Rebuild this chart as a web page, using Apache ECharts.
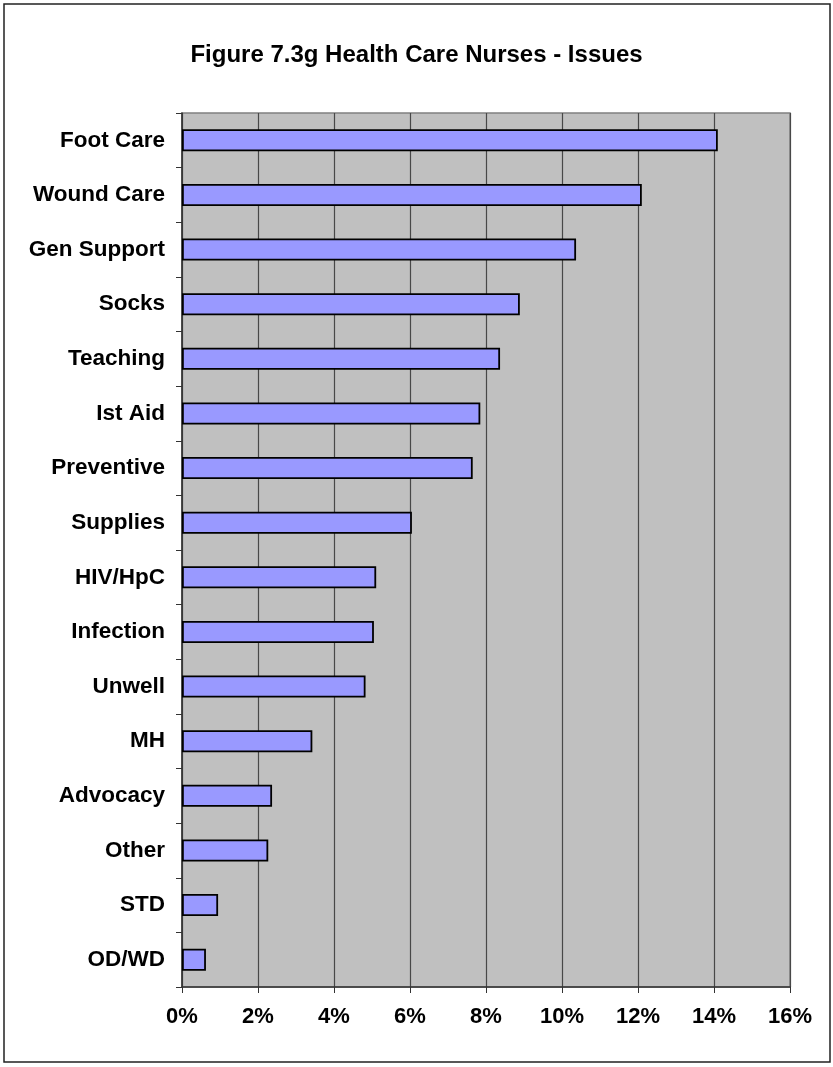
<!DOCTYPE html>
<html>
<head>
<meta charset="utf-8">
<script src="https://cdn.jsdelivr.net/npm/echarts@6/dist/echarts.min.js"></script>
<style>
  html, body { margin: 0; padding: 0; background: #ffffff; }
  #chart { width: 833px; height: 1067px; }
</style>
</head>
<body>
<div id="chart"></div>
<script>
// Issues addressed by health care nurses, share of all contacts (%)
const categories = [
  'Foot Care', 'Wound Care', 'Gen Support', 'Socks', 'Teaching', 'Ist Aid',
  'Preventive', 'Supplies', 'HIV/HpC', 'Infection', 'Unwell', 'MH',
  'Advocacy', 'Other', 'STD', 'OD/WD'
];
const shares = [
  14.1, 12.1, 10.37, 8.89, 8.37, 7.85,
  7.65, 6.05, 5.11, 5.05, 4.83, 3.43,
  2.37, 2.27, 0.95, 0.63
];
const xTicks = { min: 0, max: 16, step: 2 };
const titleText = 'Figure 7.3g Health Care Nurses - Issues';

const font = '"Liberation Sans", Arial, sans-serif';
const chart = echarts.init(document.getElementById('chart'), null, { renderer: 'canvas' });

chart.setOption({
  backgroundColor: '#ffffff',
  animation: false,
  title: {
    text: titleText,
    left: 'center',
    top: 38,
    textStyle: { fontFamily: font, fontWeight: 'bold', fontSize: 24, color: '#000' }
  },
  graphic: [{
    type: 'rect',
    shape: { x: 4, y: 4, width: 826, height: 1058 },
    style: { fill: 'none', stroke: '#222', lineWidth: 1.5 },
    silent: true,
    z: 100
  }],
  grid: {
    left: 182, right: 43, top: 113, bottom: 80,
    show: true,
    backgroundColor: '#c0c0c0',
    borderColor: '#808080',
    borderWidth: 1.5
  },
  xAxis: {
    type: 'value',
    min: xTicks.min,
    max: xTicks.max,
    interval: xTicks.step,
    axisLine: { show: true, lineStyle: { color: '#333', width: 1.5 } },
    axisTick: { show: true, length: 6, lineStyle: { color: '#333', width: 1 } },
    splitLine: { show: true, lineStyle: { color: '#484848', width: 1.2 } },
    axisLabel: {
      margin: 19,
      formatter: v => v + '%',
      fontFamily: font, fontWeight: 'bold', fontSize: 22, color: '#000'
    }
  },
  yAxis: {
    type: 'category',
    data: categories,
    inverse: true,
    axisLine: { show: true, lineStyle: { color: '#333', width: 1.5 } },
    axisTick: { show: true, length: 6, alignWithLabel: false, lineStyle: { color: '#333', width: 1 } },
    splitLine: { show: false },
    axisLabel: {
      margin: 17,
      fontFamily: font, fontWeight: 'bold', fontSize: 22.5, color: '#000'
    }
  },
  series: [{
    type: 'bar',
    data: shares,
    barWidth: 22,
    itemStyle: { color: '#9999ff', borderColor: '#000', borderWidth: 1.8 },
    silent: true
  }]
});
</script>
</body>
</html>
